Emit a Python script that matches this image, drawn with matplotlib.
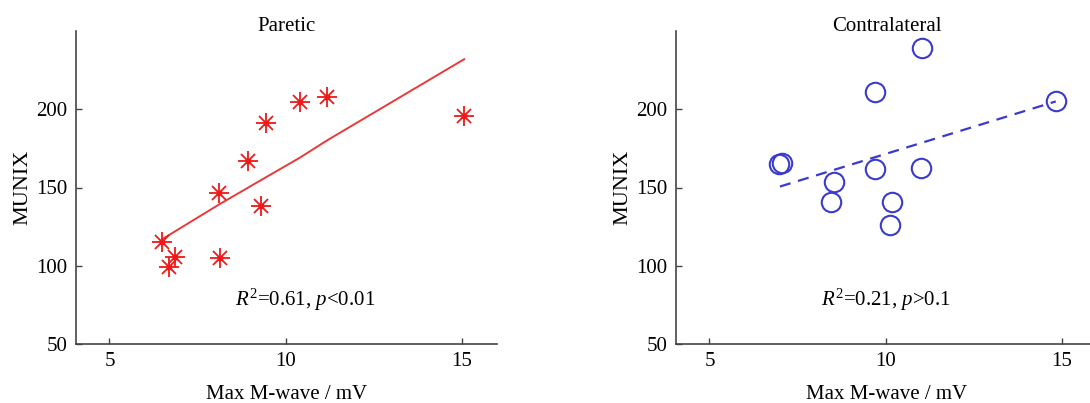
import matplotlib
matplotlib.use('Agg')
import matplotlib.pyplot as plt

plt.rcParams['font.family'] = ['Liberation Serif', 'DejaVu Serif']
plt.rcParams['mathtext.fontset'] = 'custom'
plt.rcParams['mathtext.rm'] = 'Liberation Serif'
plt.rcParams['mathtext.it'] = 'Liberation Serif:italic'

# Paretic side: max M-wave (mV) vs MUNIX
paretic_x = [6.5, 6.68, 6.86, 8.1, 8.14, 8.92, 9.3, 9.43, 10.4, 11.17, 15.07]
paretic_y = [114.9, 98.9, 105.8, 146.6, 104.7, 166.9, 138.0, 191.5, 204.7, 207.9, 196.0]
paretic_fit_x = [6.5, 8.1, 9.4, 10.4, 11.17, 15.07]
paretic_fit_y = [117, 139, 156, 169, 180, 232]

# Contralateral side
contra_x = [6.98, 7.05, 8.45, 8.54, 9.71, 9.71, 10.13, 10.18, 11.0, 11.04, 14.83]
contra_y = [165.0, 165.5, 140.5, 153.6, 162.0, 211.1, 126.0, 140.6, 162.4, 238.9, 205.3]
contra_fit_x = [7.0, 14.83]
contra_fit_y = [150.6, 205.0]

titles = ['Paretic', 'Contralateral']
stats = [r'$R^2$=0.61, $p$<0.01', r'$R^2$=0.21, $p$>0.1']
stat_x = [10.54, 10.0]

fig = plt.figure(figsize=(10.9, 4.03), dpi=100)
ax1 = fig.add_axes([76 / 1090, 59 / 403, 421 / 1090, 313 / 403])
ax2 = fig.add_axes([676 / 1090, 59 / 403, 421 / 1090, 313 / 403])

red = '#f01818'
blue = '#3a3acc'

# Paretic panel: asterisk markers and solid fit
ax1.plot(paretic_fit_x, paretic_fit_y, color='#e83a3a', lw=1.4)
ax1.plot(paretic_x, paretic_y, linestyle='none', marker='+', ms=15, mew=1.3, color=red)
ax1.plot(paretic_x, paretic_y, linestyle='none', marker='x', ms=10, mew=1.3, color=red)
ax1.plot(paretic_x, paretic_y, linestyle='none', marker='s', ms=3, color=red)

# Contralateral panel: open circles and dashed fit
ax2.plot(contra_fit_x, contra_fit_y, color=blue, lw=1.6, linestyle=(0, (5, 3.5)))
ax2.plot(contra_x, contra_y, linestyle='none', marker='o', ms=14, mew=1.5,
         mfc='none', mec=blue)

for ax, title, txt, sx in zip([ax1, ax2], titles, stats, stat_x):
    ax.set_xlim(4.05, 16)
    ax.set_ylim(50, 250)
    ax.set_xticks([5, 10, 15])
    ax.set_yticks([50, 100, 150, 200])
    ax.spines['top'].set_visible(False)
    ax.spines['right'].set_visible(False)
    for s in ['left', 'bottom']:
        ax.spines[s].set_color('#444444')
        ax.spines[s].set_linewidth(1.2)
    ax.tick_params(direction='in', length=4, width=1, color='#444444',
                   labelsize=15, pad=6)
    ax.set_title(title, fontsize=15, pad=0, y=1.0)
    ax.set_xlabel('Max M-wave / mV', fontsize=15, labelpad=10)
    ax.set_ylabel('MUNIX', fontsize=16, labelpad=3)
    ax.text(sx, 78, txt, fontsize=15, ha='center', va='center')

fig.savefig('out.png', dpi=100)
